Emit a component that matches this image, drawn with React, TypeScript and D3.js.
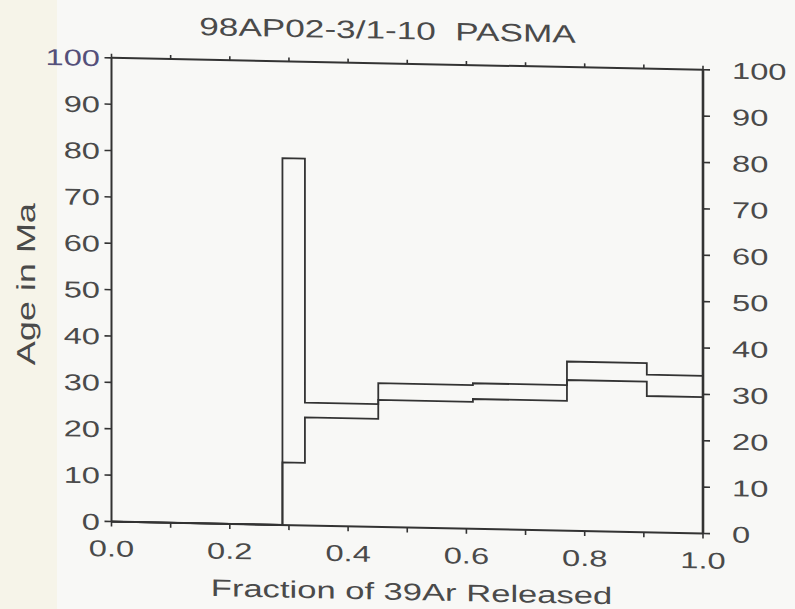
import React from "react";
import * as d3 from "d3";

// step-heating spectrum
const fractionEdges = [0, 0.289, 0.327, 0.451, 0.611, 0.77, 0.905, 1.0];
const ageLow = [0, 13.5, 23.3, 27.4, 28.0, 32.5, 29.4];
const ageHigh = [0, 79.1, 26.5, 31.0, 31.4, 36.5, 34.0];

const xLabelTicks = [0, 0.2, 0.4, 0.6, 0.8, 1.0];
const yLabelTicks = [0, 10, 20, 30, 40, 50, 60, 70, 80, 90, 100];

const title = "98AP02-3/1-10  PASMA";
const xTitle = "Fraction of 39Ar Released";
const yTitle = "Age in Ma";

const width = 795;
const height = 609;
const shear = 0.0202; // the scan is slightly skewed

const x = d3.scaleLinear().domain([0, 1]).range([111.5, 703]);
const y = d3.scaleLinear().domain([0, 100]).range([521.5, 57.8]);

const font = "'Liberation Sans', Arial, sans-serif";
const ink = "#333";
const textInk = "#4a4a4a";

type P = { f: number; a: number };

const envelope = (ages: number[]): P[] => {
  const pts: P[] = ages.map((a, i) => ({ f: fractionEdges[i], a }));
  pts.push({ f: 1, a: ages[ages.length - 1] });
  pts.push({ f: 1, a: 0 });
  return pts;
};

const line = d3
  .line<P>()
  .x((d) => x(d.f))
  .y((d) => y(d.a))
  .curve(d3.curveStepAfter);

const WideText = ({ tx, ty, sx, size, anchor = "start", rotate = false, fill = textInk, children }: any) => (
  <g transform={`translate(${tx},${ty})${rotate ? " rotate(-90)" : ""} scale(${sx},1)`}>
    <text textAnchor={anchor} fontSize={size} fontFamily={font} fill={fill} style={{ whiteSpace: "pre" }}>
      {children}
    </text>
  </g>
);

const App = () => {
  const minorX = x.ticks(10);
  const [x0, x1] = x.range();
  const [yb, yt] = y.range();

  return (
    <svg
      width={width}
      height={height}
      style={{ position: "absolute", left: 0, top: 0, display: "block" }}
    >
      <rect x={0} y={0} width={width} height={height} fill="#f8f8f6" />
      <rect x={0} y={0} width={57} height={height} fill="#f6f4e9" />
      <g transform={`matrix(1,${shear},0,1,0,${-shear * 110})`}>
        {/* frame */}
        <g stroke={ink} strokeWidth={2} fill="none">
          <line x1={x0} x2={x1} y1={yb} y2={yb} />
          <line x1={x0} x2={x1} y1={yt} y2={yt} />
          <line x1={x0} x2={x0} y1={yb} y2={yt} />
          <line x1={x1} x2={x1} y1={yb} y2={yt} strokeWidth={2.6} />
        </g>

        {/* ticks */}
        <g stroke={ink} strokeWidth={1.6}>
          {minorX.map((t) => (
            <g key={"x" + t}>
              <line x1={x(t)} x2={x(t)} y1={yb} y2={yb + 5} />
              <line x1={x(t)} x2={x(t)} y1={yt} y2={yt - 4} />
            </g>
          ))}
          {yLabelTicks.map((t) => (
            <g key={"y" + t}>
              <line x1={x0 - 7} x2={x0} y1={y(t)} y2={y(t)} />
              <line x1={x1} x2={x1 + 7} y1={y(t)} y2={y(t)} />
            </g>
          ))}
        </g>

        {/* spectrum */}
        <path d={line(envelope(ageHigh)) || ""} fill="none" stroke={ink} strokeWidth={1.8} />
        <path d={line(envelope(ageLow)) || ""} fill="none" stroke={ink} strokeWidth={1.8} />

        {/* tick labels */}
        {yLabelTicks.map((t) => (
          <WideText
            key={"ly" + t}
            tx={100}
            ty={y(t) + 8.5}
            sx={1.42}
            size={23}
            anchor="end"
            fill={t === 100 ? "#55507a" : textInk}
          >
            {String(t)}
          </WideText>
        ))}
        {yLabelTicks.map((t) => (
          <WideText key={"ry" + t} tx={732} ty={y(t) + 8.5} sx={1.42} size={23}>
            {String(t)}
          </WideText>
        ))}
        {xLabelTicks.map((t) => (
          <WideText key={"lx" + t} tx={x(t)} ty={556.5} sx={1.42} size={23} anchor="middle">
            {t.toFixed(1)}
          </WideText>
        ))}

        {/* titles */}
        <WideText tx={387.5} ty={33.2} sx={1.406} size={25} anchor="middle">
          {title}
        </WideText>
        <WideText tx={411.5} ty={594} sx={1.44} size={24} anchor="middle">
          {xTitle}
        </WideText>
        <WideText tx={35} ty={285.7} sx={1.384} size={26} anchor="middle" rotate>
          {yTitle}
        </WideText>
      </g>
    </svg>
  );
};

export default App;
